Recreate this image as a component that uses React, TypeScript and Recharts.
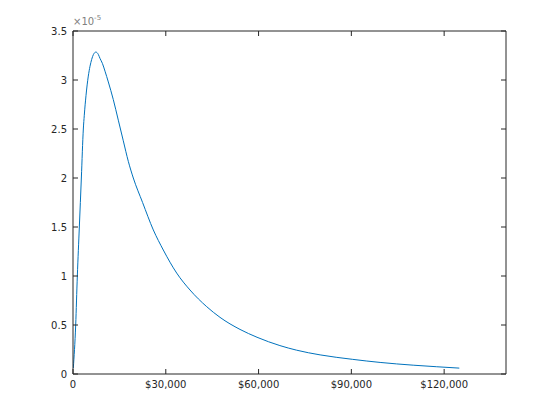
import React from 'react';
import { LineChart, Line, XAxis, YAxis } from 'recharts';

// income in dollars, density in units of 1e-5
const income = [
  100, 870, 1400, 2050, 2700, 3340, 3650, 4200, 4950, 5500, 6040, 6600, 7400, 8200, 8730,
  9500, 10350, 11420, 13030, 14650, 16260, 17880, 19500, 22500, 25970, 29200, 33520, 37830,
  43230, 47530, 54000, 59500, 66900, 72300, 79900, 90300, 99300, 110000, 117600, 124900,
];
const density = [
  0.06, 0.5, 1.0, 1.5, 2.0, 2.5, 2.64, 2.84, 3.04, 3.14, 3.21, 3.26, 3.285, 3.26, 3.22,
  3.17, 3.09, 2.98, 2.8, 2.59, 2.38, 2.17, 2.0, 1.75, 1.47, 1.265, 1.03, 0.857,
  0.687, 0.578, 0.455, 0.375, 0.29, 0.243, 0.195, 0.15, 0.118, 0.09, 0.074, 0.06,
];
const xTicks = [0, 30000, 60000, 90000, 120000];
const yTicks = [0, 0.5, 1, 1.5, 2, 2.5, 3, 3.5];

const rows = income.map((x, i) => ({ income: x, density: density[i] }));

const AXIS = '#262626';
const fmtDollar = (v: number) => (v === 0 ? '0' : `$${v.toLocaleString('en-US')}`);
const noLabel = () => '';
const tickStyle = { fill: AXIS, fontSize: 10, fontFamily: 'DejaVu Sans' };

const ExpLabel = ({ viewBox }: { viewBox?: { x: number; y: number; width: number } }) => {
  if (!viewBox) return null;
  const x = viewBox.x + viewBox.width;
  const y = viewBox.y - 6;
  return (
    <text x={x} y={y} fill="#808080" fontSize={10} fontFamily="DejaVu Sans">
      <tspan>×10</tspan>
      <tspan dy={-5} fontSize={7}>-5</tspan>
    </text>
  );
};

export default function App() {
  return (
    <div style={{ position: 'absolute', left: 0, top: 0, width: 560, height: 420, background: '#fff' }}>
      <LineChart width={560} height={420} data={rows} margin={{ top: 30, right: 53, bottom: 0, left: 0 }}>
        <XAxis
          type="number" dataKey="income" domain={[0, 140000]} ticks={xTicks}
          tickFormatter={fmtDollar} stroke={AXIS} tick={tickStyle}
          tickSize={-5} tickMargin={12} height={46} allowDataOverflow
        />
        <XAxis
          xAxisId="top" orientation="top" type="number" dataKey="income" domain={[0, 140000]}
          ticks={xTicks} stroke={AXIS} tickFormatter={noLabel} tickSize={-5} height={1} allowDataOverflow
        />
        <YAxis
          type="number" domain={[0, 3.5]} ticks={yTicks} stroke={AXIS} tick={tickStyle}
          tickSize={-5} tickMargin={11} width={73} label={<ExpLabel />}
        />
        <YAxis
          yAxisId="right" orientation="right" type="number" domain={[0, 3.5]} ticks={yTicks}
          stroke={AXIS} tickFormatter={noLabel} tickSize={-5} width={1}
        />
        <Line
          type="monotone" dataKey="density" stroke="#0072BD" strokeWidth={1}
          dot={false} isAnimationActive={false}
        />
        <Line
          xAxisId="top" yAxisId="right" dataKey="density" stroke="none"
          dot={false} activeDot={false} isAnimationActive={false} legendType="none"
        />
      </LineChart>
    </div>
  );
}
